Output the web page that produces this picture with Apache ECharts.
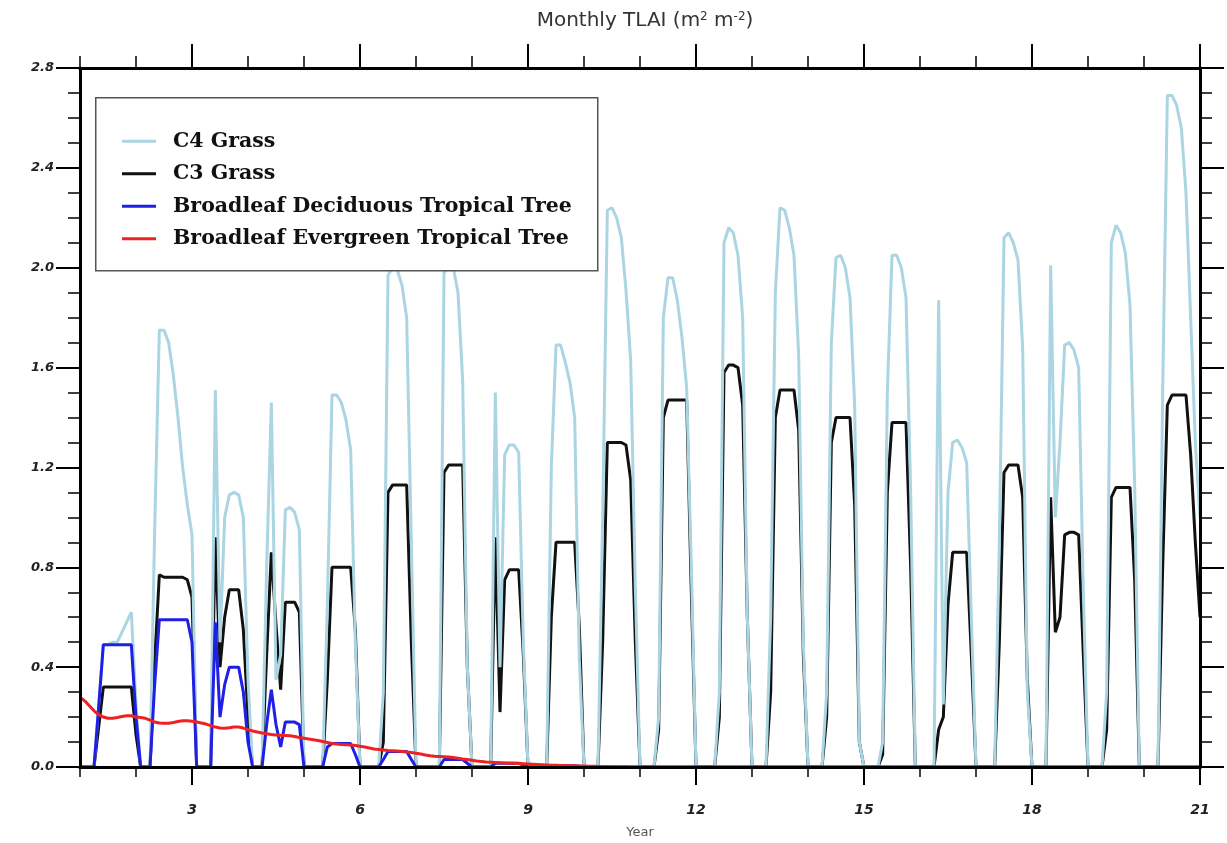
<!DOCTYPE html>
<html>
<head>
<meta charset="utf-8">
<title>Monthly TLAI</title>
<script src="https://cdn.jsdelivr.net/npm/echarts@6.0.0/dist/echarts.min.js"></script>
<style>
    html, body { margin: 0; padding: 0; background: #fff; }
    #chart { width: 1227px; height: 843px; }
</style>
</head>
<body>
<div id="chart"></div>
<script>
// monthly values, one row per year (Jan..Dec), last value = start of year 21
var c4Grass = [
    0, 0, 0, 0, 0.25, 0.49, 0.49, 0.50, 0.50, 0.54, 0.58, 0.62,
    0.25, 0, 0, 0, 0.95, 1.75, 1.75, 1.70, 1.57, 1.40, 1.20, 1.05,
    0.93, 0, 0, 0, 0, 1.51, 0.50, 1.00, 1.09, 1.10, 1.09, 1.00,
    0.35, 0, 0, 0, 0.80, 1.46, 0.35, 0.45, 1.03, 1.04, 1.02, 0.95,
    0, 0, 0, 0, 0, 0.65, 1.49, 1.49, 1.46, 1.39, 1.27, 0.50,
    0, 0, 0, 0, 0, 0.30, 1.97, 2.00, 1.99, 1.93, 1.80, 0.90,
    0, 0, 0, 0, 0, 0, 1.98, 2.00, 2.00, 1.90, 1.55, 0.40,
    0, 0, 0, 0, 0, 1.50, 0.40, 1.25, 1.29, 1.29, 1.26, 0.50,
    0, 0, 0, 0, 0, 1.20, 1.69, 1.69, 1.62, 1.54, 1.40, 0.43,
    0, 0, 0, 0, 1.00, 2.23, 2.24, 2.20, 2.12, 1.91, 1.63, 0.72,
    0, 0, 0, 0, 0.20, 1.80, 1.96, 1.96, 1.87, 1.72, 1.52, 0.80,
    0, 0, 0, 0, 0, 0.30, 2.10, 2.16, 2.14, 2.05, 1.80, 0.60,
    0, 0, 0, 0, 0.60, 1.90, 2.24, 2.23, 2.16, 2.05, 1.65, 0.50,
    0, 0, 0, 0, 0.30, 1.70, 2.04, 2.05, 2.00, 1.88, 1.45, 0.10,
    0, 0, 0, 0, 0.10, 1.50, 2.05, 2.05, 2.00, 1.88, 1.10, 0,
    0, 0, 0, 0, 1.87, 0.25, 1.10, 1.30, 1.31, 1.28, 1.22, 0.60,
    0, 0, 0, 0, 0, 0.90, 2.12, 2.14, 2.10, 2.03, 1.68, 0.30,
    0, 0, 0, 0, 2.01, 1.00, 1.30, 1.69, 1.70, 1.67, 1.60, 0.70,
    0, 0, 0, 0, 0.30, 2.10, 2.17, 2.14, 2.06, 1.85, 1.13, 0,
    0, 0, 0, 0, 1.50, 2.69, 2.69, 2.65, 2.56, 2.30, 1.80, 1.30,
    1.00
];
var c3Grass = [
    0, 0, 0, 0, 0.16, 0.32, 0.32, 0.32, 0.32, 0.32, 0.32, 0.32,
    0.13, 0, 0, 0, 0.42, 0.77, 0.76, 0.76, 0.76, 0.76, 0.76, 0.75,
    0.68, 0, 0, 0, 0, 0.92, 0.40, 0.60, 0.71, 0.71, 0.71, 0.55,
    0.20, 0, 0, 0, 0.45, 0.86, 0.57, 0.31, 0.66, 0.66, 0.66, 0.62,
    0, 0, 0, 0, 0, 0.35, 0.80, 0.80, 0.80, 0.80, 0.80, 0.55,
    0, 0, 0, 0, 0, 0.10, 1.10, 1.13, 1.13, 1.13, 1.13, 0.50,
    0, 0, 0, 0, 0, 0, 1.18, 1.21, 1.21, 1.21, 1.21, 0.40,
    0, 0, 0, 0, 0, 0.92, 0.22, 0.75, 0.79, 0.79, 0.79, 0.45,
    0, 0, 0, 0, 0, 0.60, 0.90, 0.90, 0.90, 0.90, 0.90, 0.56,
    0, 0, 0, 0, 0.50, 1.30, 1.30, 1.30, 1.30, 1.29, 1.15, 0.50,
    0, 0, 0, 0, 0.15, 1.40, 1.47, 1.47, 1.47, 1.47, 1.47, 0.70,
    0, 0, 0, 0, 0, 0.20, 1.58, 1.61, 1.61, 1.60, 1.45, 0.60,
    0, 0, 0, 0, 0.30, 1.40, 1.51, 1.51, 1.51, 1.51, 1.35, 0.45,
    0, 0, 0, 0, 0.20, 1.30, 1.40, 1.40, 1.40, 1.40, 1.05, 0.10,
    0, 0, 0, 0, 0.05, 1.10, 1.38, 1.38, 1.38, 1.38, 0.80, 0,
    0, 0, 0, 0, 0.15, 0.20, 0.65, 0.86, 0.86, 0.86, 0.86, 0.45,
    0, 0, 0, 0, 0, 0.50, 1.18, 1.21, 1.21, 1.21, 1.08, 0.35,
    0, 0, 0, 0, 1.08, 0.54, 0.60, 0.93, 0.94, 0.94, 0.93, 0.45,
    0, 0, 0, 0, 0.15, 1.08, 1.12, 1.12, 1.12, 1.12, 0.75, 0,
    0, 0, 0, 0, 0.80, 1.45, 1.49, 1.49, 1.49, 1.49, 1.25, 0.90,
    0.60
];
var bdtTree = [
    0, 0, 0, 0, 0.24, 0.49, 0.49, 0.49, 0.49, 0.49, 0.49, 0.49,
    0.20, 0, 0, 0, 0.33, 0.59, 0.59, 0.59, 0.59, 0.59, 0.59, 0.59,
    0.50, 0, 0, 0, 0, 0.58, 0.20, 0.33, 0.40, 0.40, 0.40, 0.30,
    0.10, 0, 0, 0, 0.17, 0.31, 0.17, 0.08, 0.18, 0.18, 0.18, 0.17,
    0, 0, 0, 0, 0, 0.08, 0.094, 0.094, 0.094, 0.094, 0.094, 0.05,
    0, 0, 0, 0, 0, 0.03, 0.062, 0.062, 0.062, 0.062, 0.062, 0.03,
    0, 0, 0, 0, 0, 0, 0.03, 0.03, 0.03, 0.03, 0.03, 0.015,
    0, 0, 0, 0, 0, 0.015, 0.015, 0.015, 0.015, 0.015, 0.015, 0.008,
    0, 0, 0, 0, 0, 0.005, 0.005, 0.005, 0.005, 0.005, 0.005, 0.003,
    0, 0, 0, 0, 0, 0, 0, 0, 0, 0, 0, 0,
    0, 0, 0, 0, 0, 0, 0, 0, 0, 0, 0, 0,
    0, 0, 0, 0, 0, 0, 0, 0, 0, 0, 0, 0,
    0, 0, 0, 0, 0, 0, 0, 0, 0, 0, 0, 0,
    0, 0, 0, 0, 0, 0, 0, 0, 0, 0, 0, 0,
    0, 0, 0, 0, 0, 0, 0, 0, 0, 0, 0, 0,
    0, 0, 0, 0, 0, 0, 0, 0, 0, 0, 0, 0,
    0, 0, 0, 0, 0, 0, 0, 0, 0, 0, 0, 0,
    0, 0, 0, 0, 0, 0, 0, 0, 0, 0, 0, 0,
    0, 0, 0, 0, 0, 0, 0, 0, 0, 0, 0, 0,
    0, 0, 0, 0, 0, 0, 0, 0, 0, 0, 0, 0,
    0
];
var betTree = [
    0.28, 0.265, 0.245, 0.225, 0.21, 0.20, 0.195, 0.195, 0.198, 0.202, 0.205, 0.205,
    0.20, 0.198, 0.195, 0.188, 0.18, 0.176, 0.175, 0.175, 0.178, 0.182, 0.185, 0.185,
    0.183, 0.18, 0.176, 0.172, 0.166, 0.16, 0.156, 0.155, 0.157, 0.16, 0.16, 0.156,
    0.15, 0.144, 0.14, 0.136, 0.133, 0.13, 0.128, 0.127, 0.126, 0.125, 0.122, 0.118,
    0.115, 0.112, 0.109, 0.106, 0.102, 0.098, 0.094, 0.092, 0.09, 0.089, 0.088, 0.086,
    0.083, 0.08, 0.076, 0.072, 0.07, 0.068, 0.066, 0.065, 0.064, 0.062, 0.06, 0.058,
    0.055, 0.052, 0.048, 0.045, 0.043, 0.042, 0.041, 0.04, 0.038, 0.035, 0.032, 0.03,
    0.027, 0.024, 0.022, 0.02, 0.019, 0.018, 0.017, 0.016, 0.015, 0.015, 0.014, 0.013,
    0.012, 0.011, 0.01, 0.009, 0.008, 0.007, 0.007, 0.006, 0.006, 0.005, 0.005, 0.004,
    0.004, 0.003, 0.003, 0.002, 0.002, 0.002, 0.001, 0.001, 0.001, 0.001, 0, 0,
    0, 0, 0, 0, 0, 0, 0, 0, 0, 0, 0, 0,
    0, 0, 0, 0, 0, 0, 0, 0, 0, 0, 0, 0,
    0, 0, 0, 0, 0, 0, 0, 0, 0, 0, 0, 0,
    0, 0, 0, 0, 0, 0, 0, 0, 0, 0, 0, 0,
    0, 0, 0, 0, 0, 0, 0, 0, 0, 0, 0, 0,
    0, 0, 0, 0, 0, 0, 0, 0, 0, 0, 0, 0,
    0, 0, 0, 0, 0, 0, 0, 0, 0, 0, 0, 0,
    0, 0, 0, 0, 0, 0, 0, 0, 0, 0, 0, 0,
    0, 0, 0, 0, 0, 0, 0, 0, 0, 0, 0, 0,
    0, 0, 0, 0, 0, 0, 0, 0, 0, 0, 0, 0,
    0
];

var seriesNames = ['C4 Grass', 'C3 Grass', 'Broadleaf Deciduous Tropical Tree', 'Broadleaf Evergreen Tropical Tree'];
var seriesColors = ['#abd5e2', '#111111', '#1f1fe6', '#ee2222'];
// drawing order: C3 under C4, trees on top
var seriesZ = [3, 2, 4, 5];

var yearTicks = [1, 2, 3, 4, 5, 6, 7, 8, 9, 10, 11, 12, 13, 14, 15, 16, 17, 18, 19, 20, 21];
var yearLabels = [3, 6, 9, 12, 15, 18, 21];

var firstYear = 1;

// monthly samples -> [year, value]
function toPairs(arr) {
    var out = [];
    for (var i = 0; i < arr.length; i++) {
        out.push([firstYear + i / 12, arr[i]]);
    }
    return out;
}

function makeXAxis(pos, ticks, len, labels) {
    return {
        type: 'value',
        min: 1,
        max: 21,
        position: pos,
        z: 8,
        name: labels ? 'Year' : '',
        nameLocation: 'middle',
        nameGap: 59,
        nameTextStyle: { color: '#555', fontSize: 13, fontFamily: 'DejaVu Sans' },
        axisLine: { show: true, onZero: false, lineStyle: { color: '#000', width: 3 } },
        axisTick: { show: true, customValues: ticks, length: len, lineStyle: { color: '#000', width: len > 15 ? 2 : 1.5 } },
        axisLabel: labels ? {
            show: true,
            customValues: labels,
            margin: 36,
            fontSize: 14,
            fontStyle: 'italic',
            fontWeight: 'bold',
            fontFamily: 'DejaVu Sans',
            color: '#222'
        } : { show: false },
        splitLine: { show: false }
    };
}

function makeYAxis(pos, labels) {
    return {
        type: 'value',
        min: 0,
        max: 2.8,
        interval: 0.4,
        position: pos,
        z: 8,
        axisLine: { show: true, onZero: false, lineStyle: { color: '#000', width: 3 } },
        axisTick: { show: true, length: 24, lineStyle: { color: '#000', width: 2 } },
        minorTick: { show: true, splitNumber: 4, length: 12, lineStyle: { color: '#000', width: 1.5 } },
        axisLabel: labels ? {
            show: true,
            margin: 26,
            fontSize: 13,
            fontStyle: 'italic',
            fontWeight: 'bold',
            fontFamily: 'DejaVu Sans',
            color: '#222',
            formatter: function (v) { return v.toFixed(1); }
        } : { show: false },
        splitLine: { show: false },
        minorSplitLine: { show: false }
    };
}

var seriesData = [c4Grass, c3Grass, bdtTree, betTree];
var series = [];
for (var s = 0; s < seriesData.length; s++) {
    series.push({
        name: seriesNames[s],
        type: 'line',
        xAxisIndex: 0,
        yAxisIndex: 0,
        data: toPairs(seriesData[s]),
        symbol: 'none',
        showSymbol: false,
        z: seriesZ[s],
        lineStyle: { color: seriesColors[s], width: 3 },
        itemStyle: { color: seriesColors[s] }
    });
}

var chart = echarts.init(document.getElementById('chart'));
chart.setOption({
    animation: false,
    backgroundColor: '#fff',
    title: {
        text: 'Monthly TLAI (m{sup|2} m{sup|-2})',
        left: 640,
        textAlign: 'center',
        top: 6,
        textStyle: {
            fontFamily: 'DejaVu Sans',
            fontWeight: 'normal',
            fontSize: 20,
            color: '#333',
            rich: {
                sup: { fontSize: 12, verticalAlign: 'top', lineHeight: 12, fontFamily: 'DejaVu Sans', color: '#333' }
            }
        }
    },
    grid: { left: 80, right: 27, top: 68, bottom: 76, containLabel: false, outerBoundsMode: 'none' },
    xAxis: [
        makeXAxis('bottom', yearTicks, 10, yearLabels),
        makeXAxis('bottom', yearLabels, 18, null),
        makeXAxis('top', yearTicks, 12, null),
        makeXAxis('top', yearLabels, 24, null)
    ],
    yAxis: [
        makeYAxis('left', true),
        makeYAxis('right', false)
    ],
    graphic: [{
        type: 'rect',
        left: 95,
        top: 97,
        z: 10,
        shape: { width: 502, height: 173 },
        style: { fill: '#fff', stroke: '#555', lineWidth: 1.5 }
    }],
    legend: {
        data: seriesNames,
        orient: 'vertical',
        left: 122,
        top: 130,
        z: 11,
        padding: 0,
        itemGap: 10,
        itemWidth: 34,
        itemHeight: 3,
        icon: 'rect',
        selectedMode: false,
        textStyle: {
            fontFamily: 'DejaVu Serif',
            fontWeight: 'bold',
            fontSize: 20.5,
            lineHeight: 22.5,
            color: '#111',
            padding: [0, 0, 0, 12]
        }
    },
    series: series
});
</script>
</body>
</html>
